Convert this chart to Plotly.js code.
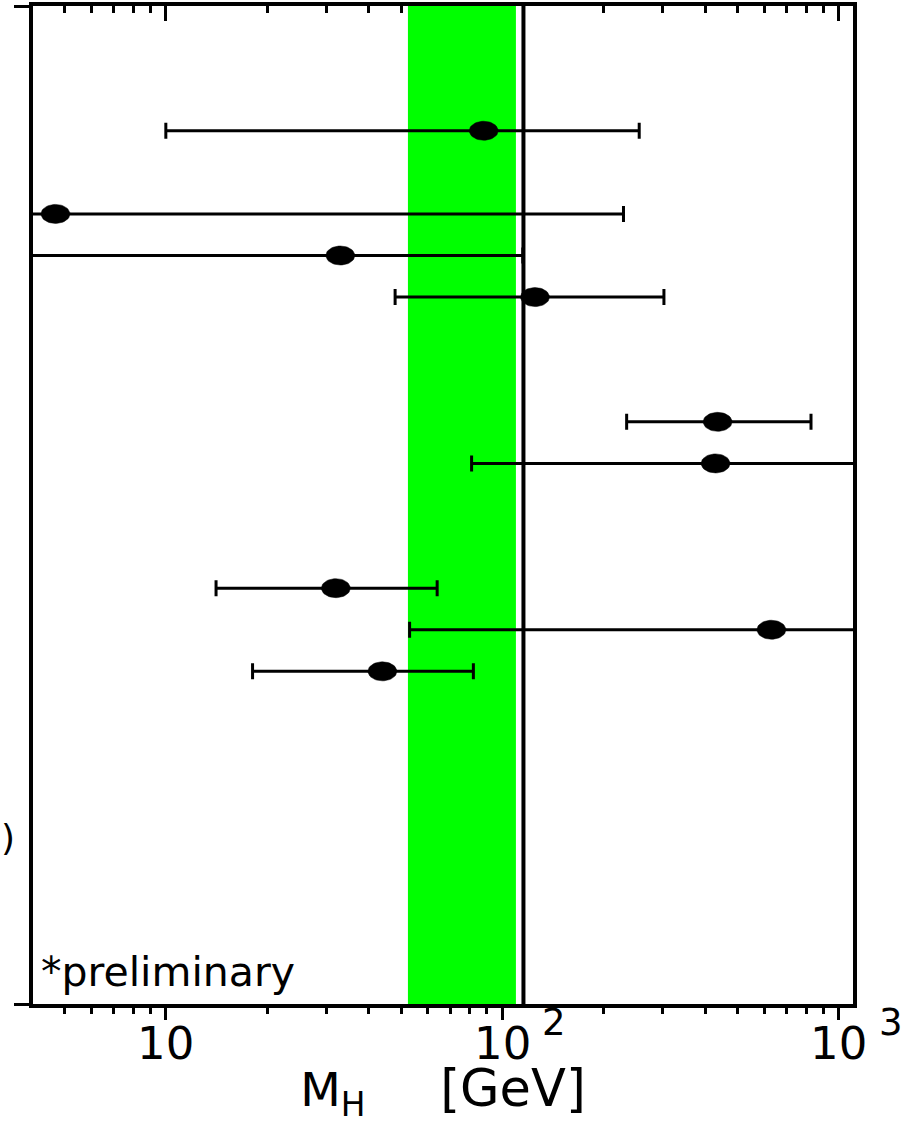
<!DOCTYPE html>
<html>
<head>
<meta charset="utf-8">
<script src="https://cdn.plot.ly/plotly-3.0.1.min.js"></script>
<style>html,body{margin:0;padding:0;background:#fff;}</style>
</head>
<body>
<div id="chart" style="width:915px;height:1124px;"></div>
<script>
// Row positions (top to bottom) and Higgs mass fits [GeV]
var rows    = [0, 2, 3, 4, 7, 8, 11, 12, 13];
var central = [88, 4.7, 33, 125, 436, 430, 32, 630, 44];
var lower   = [10, 3.0, 3.0, 48, 234, 81, 14.1, 53, 18.1];
var upper   = [255, 229, 115, 302, 826, 1500, 64, 1500, 82];

// Reference band and line
var bandRange = [52.4, 109.7];
var refLine = 115.5;

// Axis ticks
var majorTicks = [10, 100, 1000];
var tickBase = ["10", "10", "10"];
var tickExp = ["", "2", "3"];
var minorTicks = [5, 6, 7, 8, 9, 20, 30, 40, 50, 60, 70, 80, 90, 200, 300, 400, 500, 600, 700, 800, 900];
var topMajorTicks = [10, 1000];
var topMinorTicks = [5, 6, 7, 8, 9, 20, 30, 40, 50, 200, 300, 400, 500, 600, 700, 800, 900];
var xRange = [4.03, 1101];
var yRange = [21, -3];

var FONT = "DejaVu Sans, Liberation Sans, Arial, sans-serif";

// marker ellipse half-sizes: decades (x, log axis) and rows (y)
var ellRx = 0.0431, ellRy = 0.2285;

var errPlus = central.map(function(c, i){ return upper[i] - c; });
var errMinus = central.map(function(c, i){ return c - lower[i]; });

// Build elliptical markers from the data points (one filled path per point)
var ex = [], ey = [];
central.forEach(function(c, i){
  for (var k = 0; k <= 48; k++) {
    var t = 2 * Math.PI * k / 48;
    ex.push(c * Math.pow(10, ellRx * Math.cos(t)));
    ey.push(rows[i] + ellRy * Math.sin(t));
  }
  ex.push(null); ey.push(null);
});

var traces = [
  {
    x: central, y: rows, type: 'scatter', mode: 'markers',
    marker: {color: 'black', size: 1},
    error_x: {type: 'data', symmetric: false, array: errPlus, arrayminus: errMinus,
              color: 'black', thickness: 3, width: 8},
    showlegend: false, hoverinfo: 'x+y'
  },
  {
    x: ex, y: ey, type: 'scatter', mode: 'lines', fill: 'toself', fillcolor: 'black',
    line: {color: 'black', width: 0.5}, connectgaps: false,
    showlegend: false, hoverinfo: 'skip'
  },
  {
    x: central, y: rows, type: 'scatter', mode: 'markers', xaxis: 'x2',
    marker: {color: 'rgba(0,0,0,0)', size: 1}, showlegend: false, hoverinfo: 'skip'
  }
];

var shapes = [
  {type: 'rect', xref: 'x', yref: 'paper', x0: bandRange[0], x1: bandRange[1], y0: 0, y1: 1,
   fillcolor: '#00ff00', line: {width: 0}, layer: 'below'},
  {type: 'line', xref: 'x', yref: 'paper', x0: refLine, x1: refLine, y0: 0, y1: 1,
   line: {color: 'black', width: 4}, layer: 'below'}
];

var annotations = [];
majorTicks.forEach(function(v, i){
  annotations.push({xref: 'x', yref: 'paper', x: Math.log10(v), y: 0, yshift: -39,
    xanchor: 'center', yanchor: 'middle', showarrow: false, text: tickBase[i],
    font: {family: FONT, size: 45, color: 'black'}});
  if (tickExp[i]) {
    annotations.push({xref: 'x', yref: 'paper', x: Math.log10(v), y: 0, yshift: -18, xshift: 38,
      xanchor: 'left', yanchor: 'middle', showarrow: false, text: tickExp[i],
      font: {family: FONT, size: 37, color: 'black'}});
  }
});
annotations.push({xref: 'paper', yref: 'paper', x: 0, y: 0, xshift: 6, yshift: 32,
  xanchor: 'left', yanchor: 'middle', showarrow: false, text: '*preliminary',
  font: {family: FONT, size: 41, color: 'black'}});
annotations.push({xref: 'paper', yref: 'y', x: 0, y: 17, xshift: -25,
  xanchor: 'center', yanchor: 'middle', showarrow: false, text: ')',
  font: {family: FONT, size: 36, color: 'black'}});

var layout = {
  width: 915, height: 1124,
  margin: {l: 33, r: 62, t: 6, b: 120, pad: 0},
  paper_bgcolor: 'white', plot_bgcolor: 'white',
  showlegend: false,
  xaxis: {
    type: 'log', range: xRange.map(Math.log10), showgrid: false, zeroline: false,
    showline: true, linecolor: 'black', linewidth: 4,
    ticks: 'outside', tickmode: 'array', tickvals: majorTicks, ticklen: 12, tickwidth: 3, tickcolor: 'black',
    showticklabels: false,
    minor: {tickmode: 'array', tickvals: minorTicks, ticks: 'outside', ticklen: 6, tickwidth: 3, tickcolor: 'black', showgrid: false},
    title: {text: 'M<sub>H</sub>\u00a0\u00a0\u00a0\u00a0\u00a0<span style="font-size:51px">[GeV]</span>', font: {family: FONT, size: 47, color: 'black'}, standoff: 86},
    automargin: false
  },
  xaxis2: {
    type: 'log', range: xRange.map(Math.log10), overlaying: 'x', side: 'top', anchor: 'y',
    showgrid: false, zeroline: false, showline: true, linecolor: 'black', linewidth: 4,
    ticks: 'inside', tickmode: 'array', tickvals: topMajorTicks, ticklen: 15, tickwidth: 3, tickcolor: 'black',
    showticklabels: false,
    minor: {tickmode: 'array', tickvals: topMinorTicks, ticks: 'inside', ticklen: 7, tickwidth: 3, tickcolor: 'black', showgrid: false}
  },
  yaxis: {
    range: yRange, showgrid: false, zeroline: false, showline: true, mirror: true,
    linecolor: 'black', linewidth: 4,
    ticks: 'outside', tickmode: 'array', tickvals: [-3, 21], ticklen: 15, tickwidth: 3, tickcolor: 'black',
    showticklabels: false
  },
  shapes: shapes,
  annotations: annotations
};

Plotly.newPlot('chart', traces, layout, {displayModeBar: false, staticPlot: true});
</script>
</body>
</html>
